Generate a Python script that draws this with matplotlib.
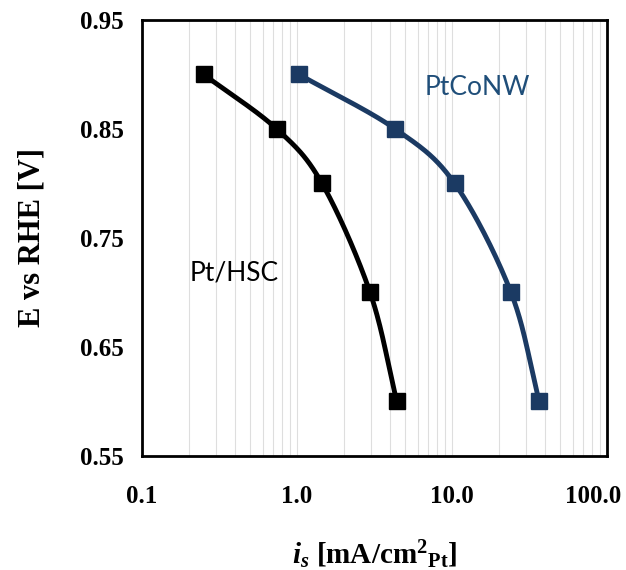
import matplotlib.pyplot as plt
import matplotlib.transforms as mtransforms
import numpy as np
from matplotlib.ticker import FixedLocator, NullFormatter, LogLocator

## Data
E_pt_hsc = [0.90, 0.85, 0.80, 0.70, 0.60]
is_pt_hsc = [0.25, 0.74, 1.45, 2.96, 4.4]

E_ptconw = [0.90, 0.85, 0.80, 0.70, 0.60]
is_ptconw = [1.03, 4.3, 10.4, 24.0, 36.5]

xticks = [0.1, 1.0, 10.0, 100.0]
xticklabels = ['0.1', '1.0', '10.0', '100.0']
yticks = [0.55, 0.65, 0.75, 0.85, 0.95]
yticklabels = ['0.55', '0.65', '0.75', '0.85', '0.95']

black = '#000000'
navy = '#1B3A63'


def smooth(xs, ys, n=40):
    # Catmull-Rom through the points, done in log-x space (like Excel's smoothed line)
    lx = np.log10(xs)
    ys = np.asarray(ys, dtype=float)
    P = np.column_stack([lx, ys])
    P = np.vstack([2*P[0] - P[1], P, 2*P[-1] - P[-2]])
    out = []
    t = np.linspace(0, 1, n)[:, None]
    for i in range(1, len(P) - 2):
        p0, p1, p2, p3 = P[i-1], P[i], P[i+1], P[i+2]
        seg = 0.5*((2*p1) + (-p0 + p2)*t + (2*p0 - 5*p1 + 4*p2 - p3)*t**2
                   + (-p0 + 3*p1 - 3*p2 + p3)*t**3)
        out.append(seg)
    out = np.vstack(out)
    return 10**out[:, 0], out[:, 1]


plt.rcParams['mathtext.fontset'] = 'custom'
plt.rcParams['mathtext.rm'] = 'Liberation Serif:bold'
plt.rcParams['mathtext.bf'] = 'Liberation Serif:bold'
plt.rcParams['mathtext.it'] = 'Liberation Serif:bold:italic'

fig = plt.figure(figsize=(6.26, 5.70), dpi=100)
ax = fig.add_axes([0.2268, 0.2, 0.743, 0.765])

for xs, ys, c in [(is_pt_hsc, E_pt_hsc, black), (is_ptconw, E_ptconw, navy)]:
    sx, sy = smooth(xs, ys)
    ax.plot(sx, sy, color=c, lw=3.5, zorder=3)
    ax.plot(xs, ys, ls='none', marker='s', ms=11, color=c, zorder=4)

ax.set_xscale('log')
ax.set_xlim(0.1, 100)
ax.set_ylim(0.55, 0.95)
ax.xaxis.set_major_locator(FixedLocator(xticks))
ax.set_xticklabels(xticklabels)
ax.xaxis.set_minor_locator(LogLocator(base=10, subs=np.arange(2, 10)))
ax.xaxis.set_minor_formatter(NullFormatter())
ax.set_yticks(yticks)
ax.set_yticklabels(yticklabels)
ax.grid(True, axis='x', which='both', color='#dedede', lw=0.8)
ax.set_axisbelow(True)
ax.tick_params(axis='x', which='both', length=0, pad=21)
ax.tick_params(axis='y', which='both', length=0, pad=13)
for lab in ax.get_xticklabels() + ax.get_yticklabels():
    lab.set_fontfamily('Liberation Serif')
    lab.set_fontweight('bold')
    lab.set_fontsize(18)
# last x label is pulled inward so it stays on the canvas
last = ax.get_xticklabels()[-1]
last.set_transform(last.get_transform() +
                   mtransforms.ScaledTranslation(-0.14, 0, fig.dpi_scale_trans))
for sp in ax.spines.values():
    sp.set_linewidth(2)

ax.set_ylabel('E vs RHE [V]', family='Liberation Serif', weight='bold',
              fontsize=22, labelpad=24)
ax.set_xlabel(r'$\mathit{i_s}$ [mA/cm$^2{}_{\mathrm{Pt}}$]', family='Liberation Serif',
              weight='bold', fontsize=21, labelpad=22)

ax.text(0.393, 0.718, 'Pt/HSC', family='Lato', fontsize=19, color=black,
        ha='center', va='center')
ax.text(14.5, 0.888, 'PtCoNW', family='Lato', fontsize=19, color='#1F4E79',
        ha='center', va='center')

fig.savefig('out.png', dpi=100)
